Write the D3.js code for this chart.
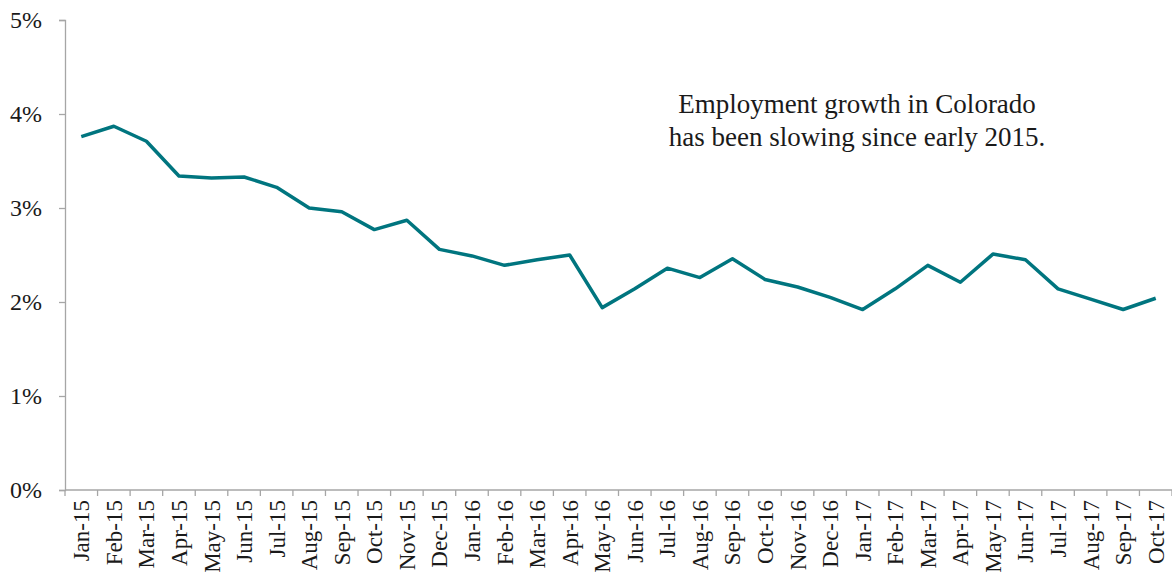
<!DOCTYPE html>
<html>
<head>
<meta charset="utf-8">
<script src="https://cdn.jsdelivr.net/npm/d3@7"></script>
<style>
  html, body { margin: 0; padding: 0; background: #fff; }
  svg { display: block; }
  text { font-family: "Liberation Serif", "DejaVu Serif", serif; fill: #1a1a1a; }
</style>
</head>
<body>
<svg id="chart" width="1172" height="585"></svg>
<script>
// Monthly employment growth, year over year (%)
const months = ["Jan-15","Feb-15","Mar-15","Apr-15","May-15","Jun-15","Jul-15","Aug-15","Sep-15","Oct-15","Nov-15","Dec-15",
                "Jan-16","Feb-16","Mar-16","Apr-16","May-16","Jun-16","Jul-16","Aug-16","Sep-16","Oct-16","Nov-16","Dec-16",
                "Jan-17","Feb-17","Mar-17","Apr-17","May-17","Jun-17","Jul-17","Aug-17","Sep-17","Oct-17"];
const growth = [3.76, 3.87, 3.71, 3.34, 3.32, 3.33, 3.22, 3.00, 2.96, 2.77, 2.87, 2.56,
                2.49, 2.39, 2.45, 2.50, 1.94, 2.14, 2.36, 2.26, 2.46, 2.24, 2.16, 2.05,
                1.92, 2.14, 2.39, 2.21, 2.51, 2.45, 2.14, 2.03, 1.92, 2.04];
const yTicks = [0, 1, 2, 3, 4, 5];
const noteLines = ["Employment growth in Colorado", "has been slowing since early 2015."];

const svg = d3.select("#chart");
const margin = { left: 65, right: 0, top: 20, bottom: 95 };
const width = 1172, height = 585;

const x = d3.scaleBand().domain(months).range([margin.left, width - margin.right]).padding(0);
const y = d3.scaleLinear().domain([0, 5]).range([height - margin.bottom, margin.top]);

const axisColor = "#a6a6a6";

// Y axis
const yAxis = svg.append("g")
  .attr("transform", `translate(${margin.left},0)`)
  .call(d3.axisLeft(y).tickValues(yTicks).tickFormat(d => d + "%").tickSize(6).tickPadding(17));
yAxis.select(".domain").attr("stroke", axisColor).attr("stroke-width", 1.3);
yAxis.selectAll(".tick line").attr("stroke", axisColor).attr("stroke-width", 1.3);
yAxis.selectAll(".tick text").attr("font-size", 24).style("font-family", "Liberation Serif, serif").attr("fill", "#1a1a1a");

// X axis, ticks at band edges
const xAxisG = svg.append("g").attr("transform", `translate(0,${y(0)})`);
xAxisG.append("line")
  .attr("x1", margin.left).attr("x2", width - margin.right)
  .attr("stroke", axisColor).attr("stroke-width", 1.3);
xAxisG.selectAll("line.edge")
  .data(months.concat(["end"]))
  .join("line")
  .attr("class", "edge")
  .attr("x1", (d, i) => i < months.length ? x(d) : x(months[months.length - 1]) + x.bandwidth())
  .attr("x2", (d, i) => i < months.length ? x(d) : x(months[months.length - 1]) + x.bandwidth())
  .attr("y1", 0).attr("y2", 6)
  .attr("stroke", axisColor).attr("stroke-width", 1.3);
xAxisG.selectAll("text")
  .data(months)
  .join("text")
  .attr("transform", d => `translate(${x(d) + x.bandwidth() / 2 + 8},${10}) rotate(-90)`)
  .attr("text-anchor", "end")
  .attr("font-size", 23)
  .text(d => d);

// Line
const line = d3.line()
  .x((d, i) => x(months[i]) + x.bandwidth() / 2)
  .y(d => y(d));
svg.append("path")
  .datum(growth)
  .attr("fill", "none")
  .attr("stroke", "#00757f")
  .attr("stroke-width", 3.5)
  .attr("stroke-linejoin", "round")
  .attr("d", line);

// Annotation
svg.append("text")
  .attr("x", 857).attr("y", 113)
  .attr("text-anchor", "middle")
  .attr("font-size", 27)
  .selectAll("tspan")
  .data(noteLines)
  .join("tspan")
  .attr("x", 857)
  .attr("dy", (d, i) => i === 0 ? 0 : 33)
  .text(d => d);
</script>
</body>
</html>
